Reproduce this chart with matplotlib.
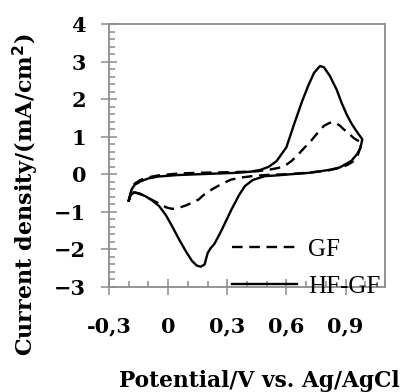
import matplotlib
matplotlib.use("Agg")
import matplotlib.pyplot as plt
from matplotlib.ticker import MultipleLocator, FuncFormatter

# HF-GF (solid) : anodic sweep then cathodic sweep
hf_v = [-0.20, -0.185, -0.17, -0.14, -0.10, -0.05, 0.05, 0.15, 0.25, 0.35, 0.42, 0.47,
        0.51, 0.55, 0.60, 0.64, 0.68, 0.71, 0.74, 0.77, 0.79, 0.82, 0.855, 0.88, 0.905,
        0.93, 0.955, 0.985,
        0.975, 0.96, 0.93, 0.87, 0.82, 0.72, 0.62, 0.55, 0.49, 0.43, 0.39, 0.36, 0.32,
        0.27, 0.235, 0.215, 0.20, 0.185, 0.165, 0.145, 0.12, 0.09, 0.055, 0.02, -0.01,
        -0.045, -0.08, -0.11, -0.14, -0.17, -0.19, -0.20]
hf_j = [-0.70, -0.40, -0.28, -0.19, -0.11, -0.06, -0.02, 0.00, 0.02, 0.04, 0.07, 0.12,
        0.20, 0.35, 0.72, 1.35, 1.95, 2.35, 2.70, 2.88, 2.85, 2.62, 2.25, 1.90, 1.60,
        1.35, 1.15, 0.93,
        0.70, 0.55, 0.36, 0.18, 0.12, 0.04, 0.00, -0.03, -0.05, -0.15, -0.31, -0.55, -0.95,
        -1.50, -1.85, -1.97, -2.10, -2.40, -2.46, -2.43, -2.30, -2.05, -1.73, -1.38, -1.10,
        -0.85, -0.70, -0.60, -0.52, -0.48, -0.55, -0.70]

# GF (dashed)
gf_v = [-0.20, -0.185, -0.17, -0.14, -0.10, -0.05, 0.05, 0.15, 0.25, 0.35, 0.45, 0.52,
        0.56, 0.59, 0.625, 0.655, 0.69, 0.72, 0.75, 0.79, 0.82, 0.845, 0.87, 0.89, 0.92,
        0.94, 0.96, 0.98,
        0.975, 0.96, 0.935, 0.91, 0.87, 0.80, 0.70, 0.605, 0.52, 0.44, 0.38, 0.32, 0.27,
        0.22, 0.18, 0.155, 0.12, 0.09, 0.055, 0.02, -0.01, -0.03, -0.06, -0.09, -0.12,
        -0.15, -0.175, -0.20]
gf_j = [-0.70, -0.40, -0.25, -0.15, -0.08, -0.03, 0.02, 0.04, 0.05, 0.06, 0.08, 0.13,
        0.17, 0.22, 0.35, 0.50, 0.70, 0.86, 1.05, 1.29, 1.37, 1.38, 1.30, 1.20, 1.07,
        0.97, 0.90, 0.88,
        0.70, 0.49, 0.33, 0.25, 0.17, 0.09, 0.04, 0.00, -0.01, -0.04, -0.08, -0.14, -0.26,
        -0.41, -0.55, -0.67, -0.76, -0.83, -0.89, -0.92, -0.88, -0.82, -0.74, -0.66, -0.58,
        -0.51, -0.48, -0.70]

x_ticks = [-0.3, 0, 0.3, 0.6, 0.9]

gray = "#8c8c8c"
bold_font = "DejaVu Serif"

fig = plt.figure(figsize=(4.04, 3.92), dpi=100)
ax = fig.add_axes([109 / 404, 1 - 287 / 392, 276 / 404, 263 / 392])

ax.plot(gf_v, gf_j, color="black", lw=1.7, dashes=(4.5, 2.8), label="GF")
ax.plot(hf_v, hf_j, color="black", lw=1.7, label="HF-GF")

ax.set_xlim(-0.3, 1.1)
ax.set_ylim(-3, 4)
ax.set_xticks(x_ticks)
ax.xaxis.set_minor_locator(MultipleLocator(0.1))
ax.yaxis.set_major_locator(MultipleLocator(1))
ax.yaxis.set_minor_locator(MultipleLocator(0.2))


def comma(v, pos):
    s = "%g" % round(v, 2)
    return s.replace(".", ",")


ax.xaxis.set_major_formatter(FuncFormatter(comma))

for sp in ax.spines.values():
    sp.set_color(gray)
    sp.set_linewidth(1.3)

ax.tick_params(which="major", direction="inout", length=11, width=1.1, color=gray)
ax.tick_params(which="minor", direction="in", length=4.3, width=1.1, color=gray)
ax.tick_params(axis="y", which="major", pad=11)
ax.tick_params(axis="x", which="major", pad=16)

for lab in ax.get_xticklabels() + ax.get_yticklabels():
    lab.set_fontfamily(bold_font)
    lab.set_fontweight("bold")
    lab.set_fontsize(15)

ax.set_xlabel("Potential/V vs. Ag/AgCl", fontfamily=bold_font, fontweight="bold",
              fontsize=15.7)
ax.xaxis.label.set_va("baseline")
ax.xaxis.set_label_coords(0.543, -0.38)
ax.set_ylabel("Current density/(mA/cm$^{\\mathbf{2}}$)", fontfamily=bold_font,
              fontweight="bold", fontsize=16)
ax.yaxis.label.set_va("center")
ax.yaxis.set_label_coords(-0.30, 0.35)

leg = ax.legend(loc="lower left", bbox_to_anchor=(232 / 404, 0.24),
                bbox_transform=fig.transFigure, frameon=False,
                prop={"family": "Liberation Serif", "size": 18},
                handlelength=2.6, handletextpad=0.45, labelspacing=0.58,
                borderpad=0, borderaxespad=0)
leg.set_zorder(5)

fig.savefig("out.png", dpi=100)
